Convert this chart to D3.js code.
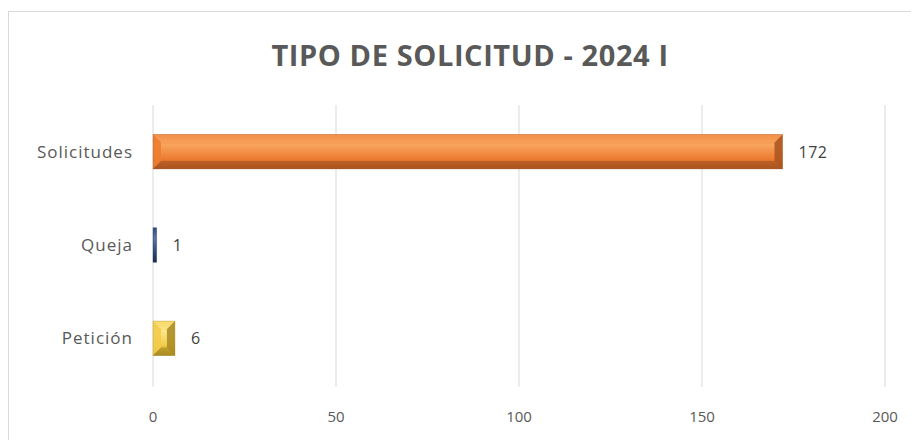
<!DOCTYPE html>
<html>
<head>
<meta charset="utf-8">
<script src="https://cdn.jsdelivr.net/npm/d3@7"></script>
<style>
body { margin: 0; background: #fff; }
text { font-family: "Open Sans", "Noto Sans", sans-serif; }
</style>
</head>
<body>
<script>

var categories = ["Solicitudes", "Queja", "Petición"];
var values = [172, 1, 6];
var ticks = [0, 50, 100, 150, 200];
var colors = [
  { base: "#ED7D31", light: "#F8A45E", dark: "#A85420" },
  { base: "#2F4A7A", light: "#5A74A6", dark: "#1B2C4E" },
  { base: "#F2CC4A", light: "#FCE58A", dark: "#A88A22" }
];

var width = 911, height = 440;

var svg = d3.select("body").append("svg")
  .attr("width", width)
  .attr("height", height);

// chart frame
svg.append("rect")
  .attr("x", 8.5).attr("y", 11.5)
  .attr("width", 920).attr("height", 440)
  .attr("fill", "#fff")
  .attr("stroke", "#d9d9d9");

svg.append("text")
  .attr("x", 470).attr("y", 66)
  .attr("text-anchor", "middle")
  .attr("font-size", 29)
  .attr("font-weight", "bold")
  .attr("letter-spacing", 0.6)
  .attr("fill", "#595959")
  .text("TIPO DE SOLICITUD - 2024 I");

var x = d3.scaleLinear().domain([0, 200]).range([153, 885]);
var y = d3.scaleBand().domain(categories).range([105, 385]).paddingInner(0.63).paddingOuter(0.315);

// gridlines
svg.selectAll(".grid").data(ticks).enter().append("line")
  .attr("x1", function(d){ return x(d); })
  .attr("x2", function(d){ return x(d); })
  .attr("y1", 105).attr("y2", 387)
  .attr("stroke", "#d9d9d9")
  .attr("stroke-width", 1);

// x axis labels
svg.selectAll(".tick").data(ticks).enter().append("text")
  .attr("x", function(d){ return x(d); })
  .attr("y", 422)
  .attr("text-anchor", "middle")
  .attr("font-size", 15)
  .attr("fill", "#595959")
  .text(function(d){ return d; });

// category labels
svg.selectAll(".cat").data(categories).enter().append("text")
  .attr("x", 133)
  .attr("y", function(d){ return y(d) + y.bandwidth() / 2 + 6; })
  .attr("text-anchor", "end")
  .attr("font-size", 17)
  .attr("letter-spacing", 1)
  .attr("fill", "#595959")
  .text(function(d){ return d; });

// gradients for bevel look
var defs = svg.append("defs");
colors.forEach(function(c, i){
  var g = defs.append("linearGradient").attr("id", "g" + i)
    .attr("x1", 0).attr("y1", 0).attr("x2", 0).attr("y2", 1);
  g.append("stop").attr("offset", "0").attr("stop-color", c.base);
  g.append("stop").attr("offset", "0.3").attr("stop-color", c.light);
  g.append("stop").attr("offset", "0.7").attr("stop-color", c.base);
  g.append("stop").attr("offset", "1").attr("stop-color", c.dark);
});

var bars = svg.selectAll(".bar").data(values).enter().append("g");

bars.each(function(d, i){
  var g = d3.select(this);
  var x0 = x(0), x1 = x(d);
  var y0 = y(categories[i]), h = y.bandwidth();
  var w = x1 - x0;
  var b = Math.min(8, w / 2.5, h / 3);
  g.append("rect")
    .attr("x", x0).attr("y", y0)
    .attr("width", w).attr("height", h)
    .attr("fill", "url(#g" + i + ")");
  if (w > 4) {
    // left bevel
    g.append("polygon")
      .attr("points", [[x0, y0], [x0 + b, y0 + b], [x0 + b, y0 + h - b], [x0, y0 + h]].join(" "))
      .attr("fill", colors[i].base).attr("opacity", 0.9);
    // right bevel (darker)
    g.append("polygon")
      .attr("points", [[x1, y0], [x1 - b, y0 + b], [x1 - b, y0 + h - b], [x1, y0 + h]].join(" "))
      .attr("fill", colors[i].dark).attr("opacity", 0.85);
    // top bevel
    g.append("polygon")
      .attr("points", [[x0, y0], [x1, y0], [x1 - b, y0 + b], [x0 + b, y0 + b]].join(" "))
      .attr("fill", colors[i].light).attr("opacity", 0.5);
    // bottom bevel
    g.append("polygon")
      .attr("points", [[x0, y0 + h], [x1, y0 + h], [x1 - b, y0 + h - b], [x0 + b, y0 + h - b]].join(" "))
      .attr("fill", colors[i].dark).attr("opacity", 0.6);
  }
  g.append("rect")
    .attr("x", x0).attr("y", y0)
    .attr("width", w).attr("height", h)
    .attr("fill", "none")
    .attr("stroke", colors[i].dark).attr("stroke-opacity", 0.4).attr("stroke-width", 0.8);
});

// value labels
svg.selectAll(".val").data(values).enter().append("text")
  .attr("x", function(d){ return x(d) + 16; })
  .attr("y", function(d, i){ return y(categories[i]) + y.bandwidth() / 2 + 6; })
  .attr("font-size", 16)
  .attr("letter-spacing", 0.5)
  .attr("fill", "#404040")
  .text(function(d){ return d; });

</script>
</body>
</html>
